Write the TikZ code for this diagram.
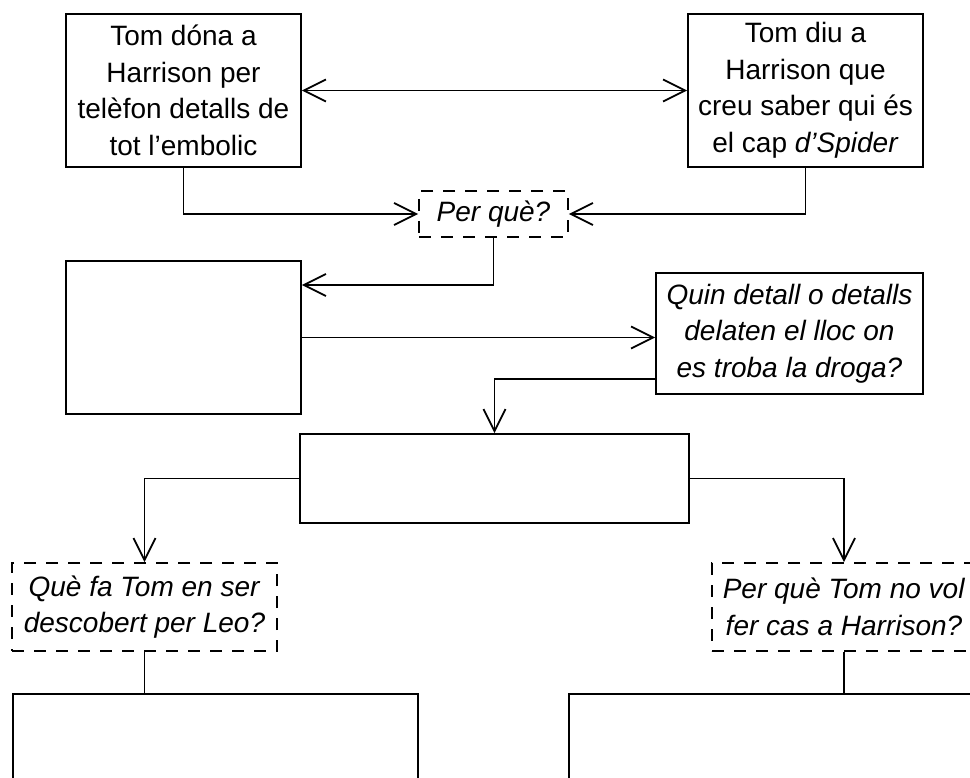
\documentclass[tikz,border=0pt]{standalone}
\usepackage{fontspec}
\setmainfont{Liberation Sans}
\usetikzlibrary{arrows.meta}
\tikzset{
  base/.style={draw, line width=1.8pt, inner sep=0pt, align=center,
    font=\fontsize{28}{36.5}\selectfont},
  solidbox/.style={base},
  dashbox/.style={base, dash pattern=on 12pt off 10pt},
  conn/.style={line width=1.8pt},
  arr/.style={conn, -{Straight Barb[length=22pt,width=22pt]}},
  darr/.style={conn, {Straight Barb[length=22pt,width=22pt]}-{Straight Barb[length=22pt,width=22pt]}}
}
\begin{document}
\begin{tikzpicture}[x=1pt,y=-1pt]
\useasboundingbox (0,0) rectangle (970,778);
\clip (0,0) rectangle (970,778);
\fill[white] (0,0) rectangle (970,778);

\node[solidbox, minimum width=235pt, minimum height=153pt] (A) at (183.5,90.5)
  {Tom dóna a\\Harrison per\\telèfon detalls de\\tot l’embolic};
\node[solidbox, minimum width=235pt, minimum height=153pt] (B) at (805.5,90.5)
  {Tom diu a\\Harrison que\\creu saber qui és\\el cap \textit{d’Spider}};
\node[dashbox, minimum width=149pt, minimum height=46pt] (P) at (493.5,214)
  {\textit{Per què?}};
\node[solidbox, minimum width=235pt, minimum height=153pt] (C) at (183.5,337.5) {};
\node[solidbox, minimum width=267pt, minimum height=121pt] (Q) at (789.5,333.5)
  {\textit{Quin detall o detalls}\\\textit{delaten el lloc on}\\\textit{es troba la droga?}};
\node[solidbox, minimum width=389pt, minimum height=89pt] (D) at (494.5,478.5) {};
\node[dashbox, minimum width=265pt, minimum height=88pt] (E) at (144.5,607)
  {\textit{Què fa Tom en ser}\\\textit{descobert per Leo?}};
\node[dashbox, minimum width=264pt, minimum height=88pt] (F) at (844,607)
  {\textit{Per què Tom no vol}\\\textit{fer cas a Harrison?}};
\node[solidbox, minimum width=405pt, minimum height=212pt] (G) at (215.5,800) {};
\node[solidbox, minimum width=554pt, minimum height=212pt] (H) at (846,800) {};

\draw[darr] (A.east) -- (B.west);
\draw[arr] (A.south) |- (P.west);
\draw[arr] (B.south) |- (P.east);
\draw[arr] (P.south) |- ([yshift=52.5pt]C.east);
\draw[arr] (C.east) -- (C.east -| Q.west);
\draw[arr] ([yshift=-45.5pt]Q.west) -| (D.north);
\draw[arr] (D.west) -| (E.north);
\draw[arr] (D.east) -| (F.north);
\draw[conn] (E.south) -- (E.south |- G.north);
\draw[conn] (F.south) -- (F.south |- H.north);
\end{tikzpicture}
\end{document}
